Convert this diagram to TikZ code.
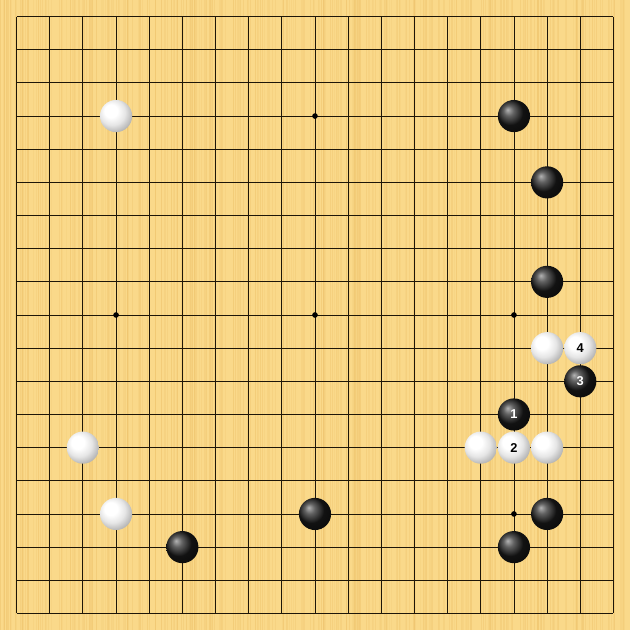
\documentclass[tikz,border=0pt]{standalone}
\usepackage{fontspec}
\setsansfont{Liberation Sans}
\usepackage{tikz}
\definecolor{boardwood}{RGB}{250,217,138}
\definecolor{boardgrain}{RGB}{240,198,112}
\definecolor{boardline}{RGB}{30,22,8}
\pgfdeclareradialshading{whitestone}{\pgfpoint{-10bp}{10bp}}{%
    color(0bp)=(white); color(10bp)=(white); color(20bp)=(black!10);
    color(30bp)=(black!30); color(50bp)=(black!65)}
\pgfdeclareradialshading{blackstone}{\pgfpoint{-10bp}{10bp}}{%
    color(0bp)=(black!30); color(8bp)=(black!62); color(20bp)=(black!93);
    color(50bp)=(black)}

\begin{document}
\begin{tikzpicture}[x=1cm,y=-1cm,
        font=\sffamily\bfseries\fontsize{11}{13}\selectfont,
        stone/.style={circle,minimum size=0.97cm,inner sep=0pt},
        bstone/.style={stone,shading=blackstone,text=white},
        wstone/.style={stone,shading=whitestone,text=black},
        hoshi/.style={circle,fill=black,inner sep=0pt,minimum size=0.17cm}]

    % board
    \fill[boardwood] (-0.5,-0.5) rectangle (18.5,18.5);
    \useasboundingbox (-0.5,-0.5) rectangle (18.5,18.5);
    \pgfmathsetseed{11}
    \foreach \s in {1,...,380} {
        \pgfmathsetmacro\gx{rnd*19-0.5}
        \pgfmathsetmacro\go{0.2+0.3*rnd}
        \draw[boardgrain,line width=0.35pt,opacity=\go] (\gx,-0.5) -- (\gx,18.5);
    }
    \foreach \k in {0,...,18} {
        \draw[boardline,line width=0.75pt] (\k,0) -- (\k,18);
        \draw[boardline,line width=0.75pt] (0,\k) -- (18,\k);
    }
    \foreach \i in {3,9,15}
        \foreach \j in {3,9,15}
            \node[hoshi] (h\i\j) at (\i,\j) {};

    % black stones
    \node[bstone] (b1) at (15,3) {};
    \node[bstone] (b2) at (16,5) {};
    \node[bstone] (b3) at (16,8) {};
    \node[bstone] (b4) at (9,15) {};
    \node[bstone] (b5) at (16,15) {};
    \node[bstone] (b6) at (5,16) {};
    \node[bstone] (b7) at (15,16) {};
    \node[bstone] (m1) at (15,12) {1};
    \node[bstone] (m3) at (17,11) {3};

    % white stones
    \node[wstone] (w1) at (3,3) {};
    \node[wstone] (w2) at (16,10) {};
    \node[wstone] (w3) at (2,13) {};
    \node[wstone] (w4) at (14,13) {};
    \node[wstone] (w5) at (16,13) {};
    \node[wstone] (w6) at (3,15) {};
    \node[wstone] (m2) at (15,13) {2};
    \node[wstone] (m4) at (17,10) {4};
\end{tikzpicture}
\end{document}
